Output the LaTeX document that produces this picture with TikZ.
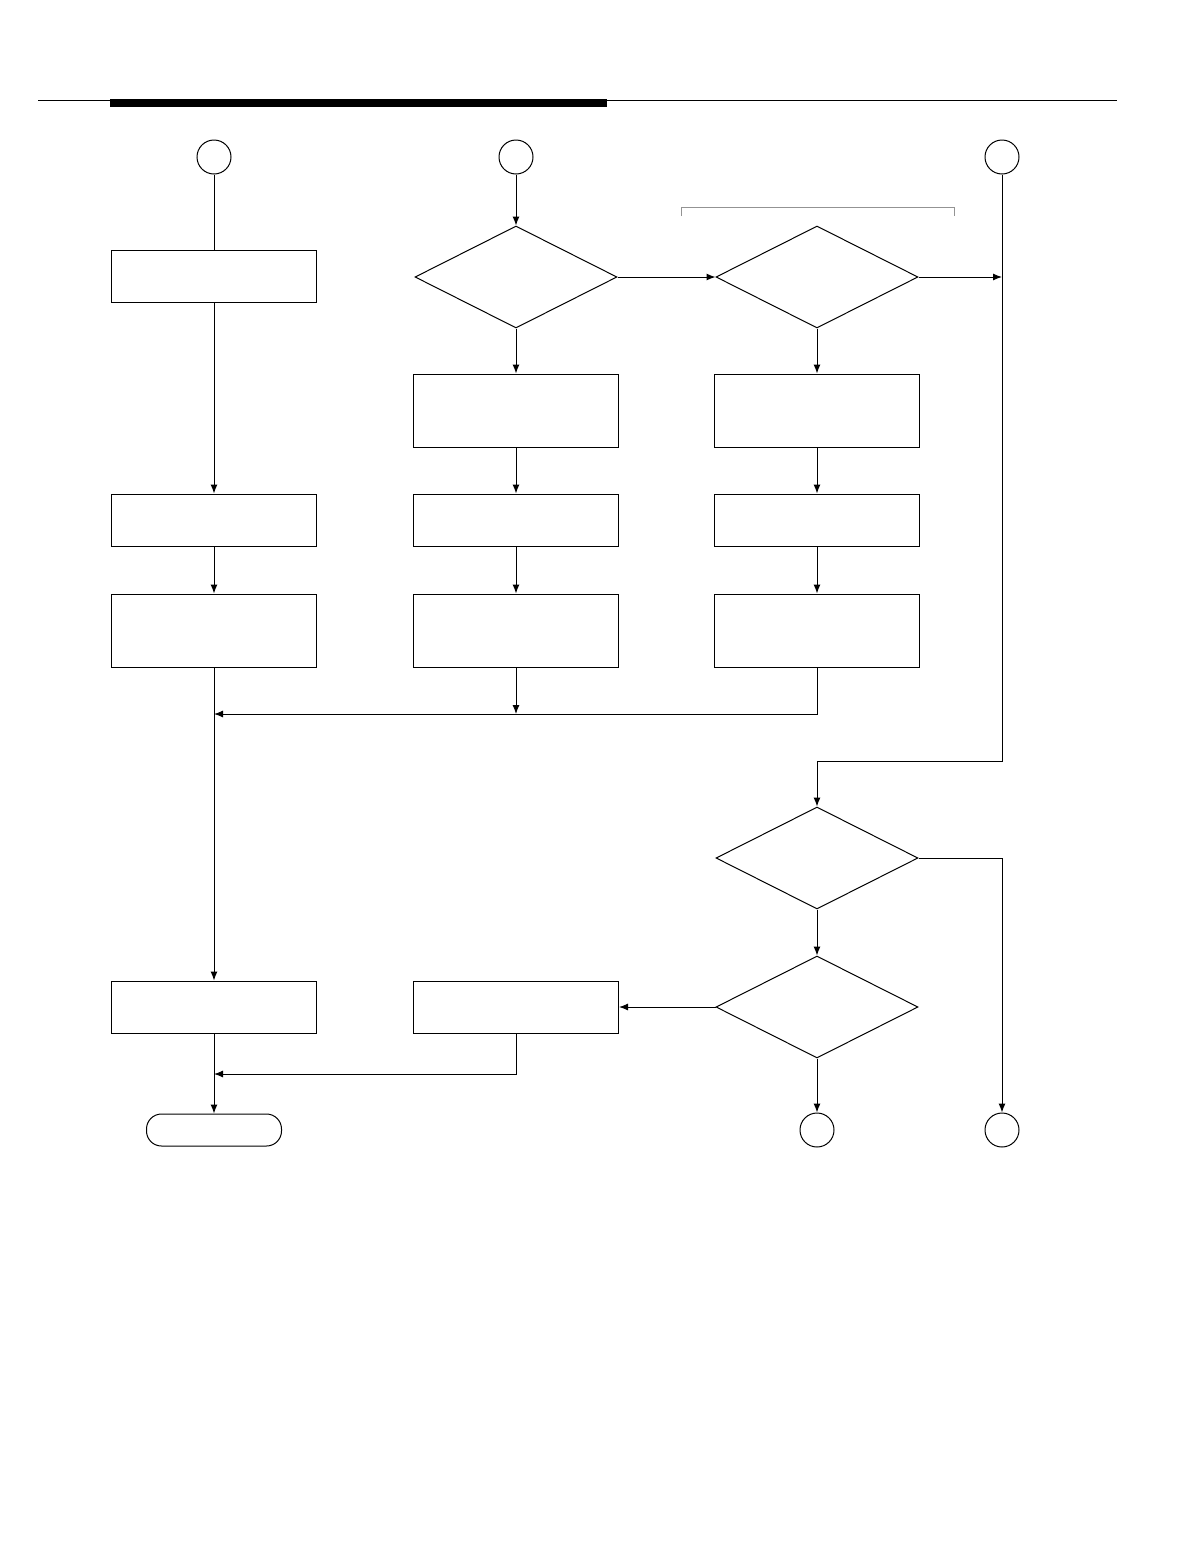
\documentclass[tikz,border=0pt]{standalone}
\usetikzlibrary{shapes.geometric,arrows.meta}
\begin{document}
\begin{tikzpicture}[x=1pt,y=-1pt,
  every path/.style={line width=1pt},
  conn/.style={-{Latex[length=9pt,width=7pt]}},
  boxn/.style={draw,rectangle,inner sep=0pt,minimum width=205pt,minimum height=52pt},
  tallbox/.style={draw,rectangle,inner sep=0pt,minimum width=205pt,minimum height=73pt},
  dec/.style={draw,diamond,inner sep=0pt,minimum width=202pt,minimum height=102pt},
  conc/.style={draw,circle,inner sep=0pt,minimum size=34pt},
  term/.style={draw,rectangle,rounded corners=15pt,inner sep=0pt,minimum width=135pt,minimum height=32pt}]
\useasboundingbox (0,0) rectangle (1190,1556);
% header rule
\draw[line width=0.8pt] (38,100) -- (1117,100);
\fill (110,99) rectangle (607,107);
% bracket
\draw[gray!85,line width=1pt] (681,216) -- (681,207) -- (954,207) -- (954,216);
% connectors (circles)
\node[conc] (k1) at (214,157) {};
\node[conc] (k2) at (516,157) {};
\node[conc] (k3) at (1002,157) {};
\node[conc] (k4) at (817,1130) {};
\node[conc] (k5) at (1002,1130) {};
% column A
\node[boxn] (a1) at (214,276.5) {};
\node[boxn] (a2) at (214,520) {};
\node[tallbox] (a3) at (214,630.5) {};
\node[boxn] (a4) at (214,1007) {};
\node[term] (t) at (214,1130) {};
% column B
\node[dec] (d1) at (516,277) {};
\node[tallbox] (b1) at (516,410.5) {};
\node[boxn] (b2) at (516,520) {};
\node[tallbox] (b3) at (516,630.5) {};
\node[boxn] (b4) at (516,1007) {};
% column C
\node[dec] (d2) at (817,277) {};
\node[tallbox] (c1) at (817,410.5) {};
\node[boxn] (c2) at (817,520) {};
\node[tallbox] (c3) at (817,630.5) {};
\node[dec] (d3) at (817,858) {};
\node[dec] (d4) at (817,1007) {};
% coordinates
\coordinate (j1) at (1002,277);
\coordinate (mA) at (214,714);
\coordinate (mB) at (516,714);
\coordinate (t1) at (1002,761);
\coordinate (mC) at (214,1074);
% edges
\draw (k1) -- (a1);
\draw[conn] (a1) -- (a2);
\draw[conn] (a2) -- (a3);
\draw[conn] (a3) -- (a4);
\draw[conn] (a4) -- (t);
\draw[conn] (k2) -- (d1);
\draw[conn] (d1) -- (b1);
\draw[conn] (b1) -- (b2);
\draw[conn] (b2) -- (b3);
\draw[conn] (b3) -- (mB);
\draw[conn] (c3.south) |- (mA);
\draw[conn] (d1.east) -- (d2.west);
\draw[conn] (d2.east) -- (j1);
\draw[conn] (d2) -- (c1);
\draw[conn] (c1) -- (c2);
\draw[conn] (c2) -- (c3);
\draw[conn] (k3.south) -- (t1) -| (d3.north);
\draw[conn] (d3.east) -| (k5.north);
\draw[conn] (d3) -- (d4);
\draw[conn] (d4.west) -- (b4.east);
\draw[conn] (d4) -- (k4);
\draw[conn] (b4.south) |- (mC);
\end{tikzpicture}
\end{document}
